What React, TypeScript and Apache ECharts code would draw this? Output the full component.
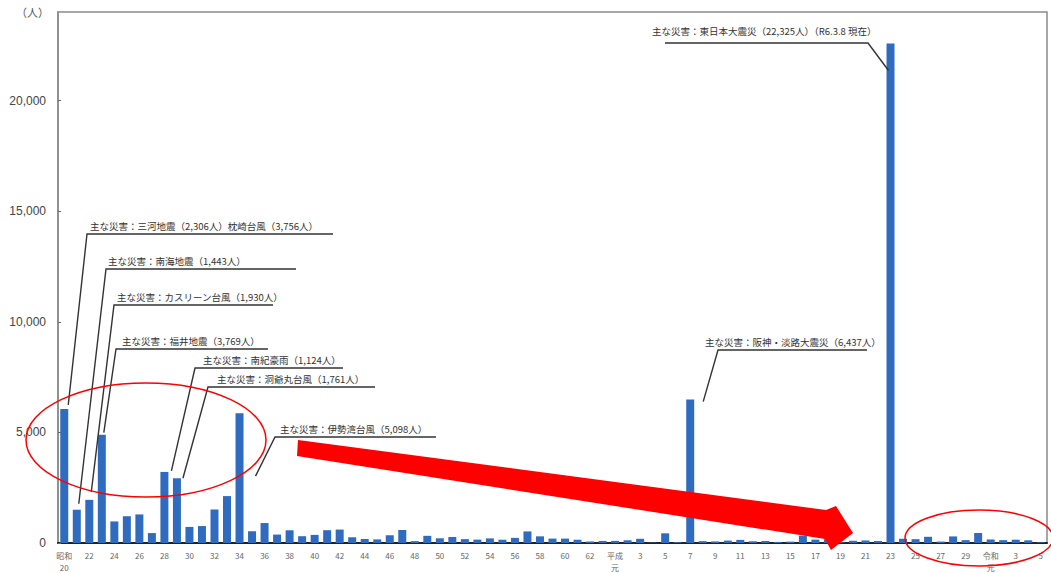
import React, { useEffect, useRef } from "react";
import * as echarts from "echarts";

// 年（和暦）
const categories: string[] = [
  "昭和20", "21", "22", "23", "24", "25", "26", "27", "28", "29",
  "30", "31", "32", "33", "34", "35", "36", "37", "38", "39",
  "40", "41", "42", "43", "44", "45", "46", "47", "48", "49",
  "50", "51", "52", "53", "54", "55", "56", "57", "58", "59",
  "60", "61", "62", "63",
  "平成元", "2", "3", "4", "5", "6", "7", "8", "9", "10",
  "11", "12", "13", "14", "15", "16", "17", "18", "19", "20",
  "21", "22", "23", "24", "25", "26", "27", "28", "29", "30",
  "令和元", "2", "3", "4", "5",
];

// 死者・行方不明者数（人）
const deaths: number[] = [
  6062, 1504, 1950, 4897, 975, 1210, 1291, 449, 3212, 2926,
  727, 765, 1515, 2120, 5868, 528, 902, 381, 575, 307,
  367, 578, 607, 259, 183, 163, 350, 587, 85, 324,
  213, 273, 174, 153, 208, 148, 232, 524, 301, 199,
  199, 148, 69, 93,
  96, 123, 190, 19, 438, 39, 6482, 84, 71, 109,
  141, 78, 90, 48, 62, 327, 153, 177, 39, 101,
  115, 89, 22575, 192, 173, 280, 65, 297, 129, 452,
  159, 128, 150, 120, 30,
];

const yTicks = { min: 0, max: 24000, interval: 5000 };

// 主な災害（注記）
const annotationTexts: string[] = [
  "主な災害：三河地震（2,306人）枕崎台風（3,756人）",
  "主な災害：南海地震（1,443人）",
  "主な災害：カスリーン台風（1,930人）",
  "主な災害：福井地震（3,769人）",
  "主な災害：南紀豪雨（1,124人）",
  "主な災害：洞爺丸台風（1,761人）",
  "主な災害：伊勢湾台風（5,098人）",
  "主な災害：阪神・淡路大震災（6,437人）",
  "主な災害：東日本大震災（22,325人）（R6.3.8 現在）",
];
const annotationBars: number[] = [0, 1, 2, 3, 8, 9, 14, 50, 66];

// layout of the callouts (pixels): text x, text bottom y, underline y, underline x0..x1, leader end offset from bar top
const annotationLayout = [
  { tx: 90, ty: 231, ly: 234, x0: 87, x1: 333, dx: 4, dy: -4, from: "left" },
  { tx: 108, ty: 266, ly: 269, x0: 106, x1: 296, dx: 2, dy: -6, from: "left" },
  { tx: 117, ty: 302, ly: 305, x0: 114, x1: 273, dx: 2, dy: -8, from: "left" },
  { tx: 122, ty: 346, ly: 349, x0: 116, x1: 268, dx: 2, dy: -2, from: "left" },
  { tx: 203, ty: 365, ly: 368, x0: 195, x1: 343, dx: 7, dy: -1, from: "left" },
  { tx: 217, ty: 384, ly: 387, x0: 208, x1: 375, dx: 6, dy: 0, from: "left" },
  { tx: 280, ty: 434, ly: 437, x0: 275, x1: 436, dx: 16, dy: 63, from: "left" },
  { tx: 705, ty: 347, ly: 350, x0: 718, x1: 867, dx: 13, dy: 2, from: "left" },
  { tx: 652, ty: 36, ly: 43, x0: 665, x1: 868, dx: -2, dy: 27, from: "right" },
];

const FONT = "'Noto Sans CJK JP', 'Noto Sans', sans-serif";

export default function App() {
  const ref = useRef<HTMLDivElement>(null);
  useEffect(() => {
    if (!ref.current) return;
    const chart = echarts.init(ref.current, null, { renderer: "svg" });
    chart.setOption({
      animation: false,
      grid: {
        left: 58,
        right: 4,
        top: 12,
        bottom: 28,
        show: true,
        borderColor: "#8a8a8a",
        borderWidth: 1.5,
        backgroundColor: "transparent",
      },
      xAxis: {
        type: "category",
        data: categories,
        boundaryGap: true,
        axisLine: { show: true, lineStyle: { color: "#222", width: 2 } },
        axisTick: { show: false },
        axisLabel: {
          interval: 1,
          fontSize: 8,
          color: "#666",
          margin: 6,
          lineHeight: 12,
          fontFamily: FONT,
          verticalAlign: "top",
          formatter: (v: string) => v.replace(/^(昭和|平成|令和)/, "$1\n"),
        },
      },
      yAxis: {
        type: "value",
        min: yTicks.min,
        max: yTicks.max,
        interval: yTicks.interval,
        axisLine: { show: true, lineStyle: { color: "#8a8a8a", width: 1.5 } },
        axisTick: { show: true, inside: true, length: 3, lineStyle: { color: "#666" } },
        splitLine: { show: false },
        axisLabel: {
          showMaxLabel: false,
          fontSize: 12,
          color: "#444",
          margin: 12,
          fontFamily: "'Liberation Sans', Arial, sans-serif",
          formatter: (v: number) => v.toLocaleString("en-US"),
        },
      },
      series: [
        {
          type: "bar",
          data: deaths,
          barWidth: 8,
          itemStyle: { color: "#2f6cbf" },
        },
      ],
    });

    const elements: any[] = [];
    elements.push({
      type: "text",
      x: 16,
      y: 12,
      style: { text: "（人）", fontSize: 11, fill: "#555", fontFamily: FONT, verticalAlign: "middle" },
    });
    annotationTexts.forEach((t, i) => {
      const L = annotationLayout[i];
      const idx = annotationBars[i];
      const p = chart.convertToPixel({ xAxisIndex: 0, yAxisIndex: 0 }, [idx, deaths[idx]]) as number[];
      const end = [p[0] + L.dx, p[1] + L.dy];
      elements.push({
        type: "text",
        x: L.tx,
        y: L.ty,
        z: 50,
        style: { text: t, fontSize: 9.5, fill: "#333", fontFamily: FONT, verticalAlign: "bottom", align: "left" },
      });
      const pts = L.from === "left" ? [[L.x1, L.ly], [L.x0, L.ly], end] : [[L.x0, L.ly], [L.x1, L.ly], end];
      elements.push({
        type: "polyline",
        z: 50,
        shape: { points: pts },
        style: { stroke: "#333", lineWidth: 1.4, fill: null },
      });
    });
    // red overlay marks
    elements.push({
      type: "ellipse",
      z: 100,
      shape: { cx: 146, cy: 440, rx: 120, ry: 57 },
      style: { fill: "none", stroke: "#ff0000", lineWidth: 1.5 },
    });
    elements.push({
      type: "ellipse",
      z: 100,
      shape: { cx: 979, cy: 538, rx: 74, ry: 28 },
      style: { fill: "none", stroke: "#ff0000", lineWidth: 1.5 },
    });
    elements.push({
      type: "polygon",
      z: 100,
      shape: {
        points: [
          [298, 440], [826, 510], [836, 506], [853, 533], [831, 550], [825, 539], [297, 456],
        ],
      },
      style: { fill: "#ff0000" },
    });
    chart.setOption({ graphic: elements });

    return () => chart.dispose();
  }, []);
  return (
    <div
      ref={ref}
      style={{ position: "fixed", left: 0, top: 0, width: 1051, height: 573, background: "#fff" }}
    />
  );
}
